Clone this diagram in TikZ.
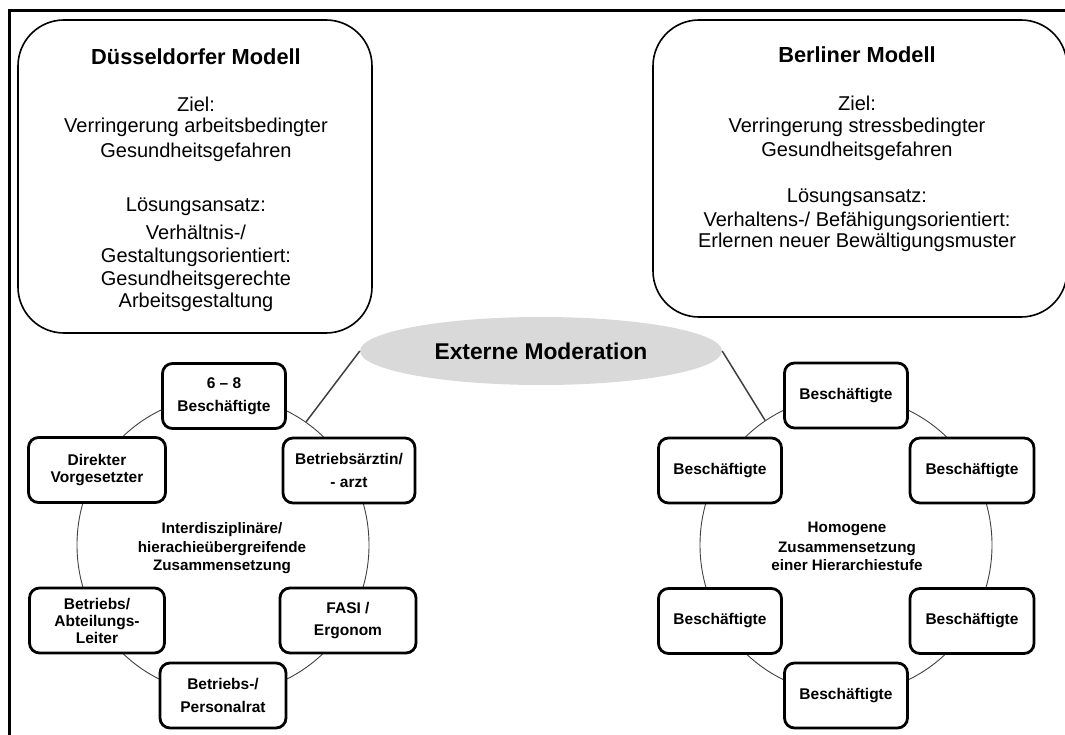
\documentclass[tikz,border=0pt]{standalone}
\usepackage{fontspec}
\setmainfont{Liberation Sans}
\usetikzlibrary{shapes.geometric}
\definecolor{ellgray}{HTML}{D9D9D9}
\definecolor{linegray}{HTML}{404040}
\begin{document}
\begin{tikzpicture}[x=1pt,y=-1pt,
  bigbox/.style={draw, line width=1.6pt, rounded corners=46pt, inner sep=0pt},
  titletxt/.style={inner sep=0pt, anchor=base, font=\fontsize{21.8}{25}\selectfont\bfseries},
  bodytxt/.style={inner sep=0pt, anchor=base, font=\fontsize{20}{23}\selectfont},
  smallbox/.style={draw, line width=2.8pt, rounded corners=10pt, fill=white, inner sep=0pt,
    align=center, minimum height=65pt, font=\fontsize{15.5}{23}\selectfont\bfseries},
  tight/.style={font=\fontsize{15.5}{17}\selectfont\bfseries},
  midtxt/.style={inner sep=0pt, anchor=base, font=\fontsize{15.2}{18}\selectfont\bfseries},
  ring/.style={draw=linegray, line width=0.9pt, ellipse, inner sep=0pt, minimum width=292pt, minimum height=298pt},
  modline/.style={draw=linegray, line width=1.5pt}
]
\useasboundingbox (0,0) rectangle (1065,735);
\clip (0,0) rectangle (1065,735);

% frame
\draw[line width=3pt] (9.5,740) -- (9.5,10.5) -- (1070,10.5);

% big boxes
\node[bigbox, minimum width=354pt, minimum height=313pt] (dbox) at (195,176.5) {};
\node[bigbox, minimum width=414pt, minimum height=297pt] (bbox) at (860,168.5) {};

% Duesseldorf text
\node[titletxt] (dt) at (196,65) {Düsseldorfer Modell};
\node[bodytxt] (dz) at (196,112) {Ziel:};
\node[bodytxt] (dv) at (196,133) {Verringerung arbeitsbedingter};
\node[bodytxt] (dg) at (196,158) {Gesundheitsgefahren};
\node[bodytxt] (dl) at (196,212) {Lösungsansatz:};
\node[bodytxt] (dh) at (196,240) {Verhältnis-/};
\node[bodytxt] (dgo) at (196,263) {Gestaltungsorientiert:};
\node[bodytxt] (dgg) at (196,285) {Gesundheitsgerechte};
\node[bodytxt] (da) at (196,307) {Arbeitsgestaltung};

% Berlin text
\node[titletxt] (bt) at (857,63) {Berliner Modell};
\node[bodytxt] (bz) at (857,111) {Ziel:};
\node[bodytxt] (bv) at (857,133) {Verringerung stressbedingter};
\node[bodytxt] (bg) at (857,157) {Gesundheitsgefahren};
\node[bodytxt] (bl) at (857,203) {Lösungsansatz:};
\node[bodytxt] (bh) at (857,227) {Verhaltens-/ Befähigungsorientiert:};
\node[bodytxt] (be) at (857,248) {Erlernen neuer Bewältigungsmuster};

% rings
\node[ring] (cL) at (223,545) {};
\node[ring] (cR) at (846,545) {};

% moderation ellipse
\node[ellipse, fill=ellgray, inner sep=0pt, minimum width=362pt, minimum height=68pt,
      font=\fontsize{22.8}{26}\selectfont\bfseries] (mod) at (541,351) {Externe Moderation};
\draw[modline] (mod.west) -- (cL.56.6);
\draw[modline] (mod.east) -- (cR.123.4);

% left ring boxes
\node[smallbox, minimum width=123pt] (l1) at (224,396) {6 -- 8\\Beschäftigte};
\node[smallbox, tight, minimum width=137pt] (l2) at (97,470) {Direkter\\Vorgesetzter};
\node[smallbox, minimum width=132pt] (l3) at (349,470.5) {Betriebsärztin/\\- arzt};
\node[smallbox, tight, minimum width=135pt] (l4) at (97,620.5) {Betriebs/\\Abteilungs-\\Leiter};
\node[smallbox, font=\fontsize{15.5}{22}\selectfont\bfseries, minimum width=136pt] (l5) at (348,620.5) {FASI /\\Ergonom};
\node[smallbox, minimum width=126pt] (l6) at (223,695.5) {Betriebs-/\\Personalrat};

\node[midtxt] (lm1) at (222,533) {Interdisziplinäre/};
\node[midtxt] (lm2) at (222,552) {hierachieübergreifende};
\node[midtxt] (lm3) at (222,570) {Zusammensetzung};

% right ring boxes
\node[smallbox, minimum width=123pt] (r1) at (846,395.5) {Beschäftigte};
\node[smallbox, minimum width=123pt] (r2) at (720,470.5) {Beschäftigte};
\node[smallbox, minimum width=124pt] (r3) at (972,470.5) {Beschäftigte};
\node[smallbox, minimum width=123pt] (r4) at (720,621) {Beschäftigte};
\node[smallbox, minimum width=124pt] (r5) at (972,621) {Beschäftigte};
\node[smallbox, minimum width=123pt] (r6) at (846,695.5) {Beschäftigte};

\node[midtxt] (rm1) at (847,532) {Homogene};
\node[midtxt] (rm2) at (847,552) {Zusammensetzung};
\node[midtxt] (rm3) at (847,570) {einer Hierarchiestufe};
\end{tikzpicture}
\end{document}
